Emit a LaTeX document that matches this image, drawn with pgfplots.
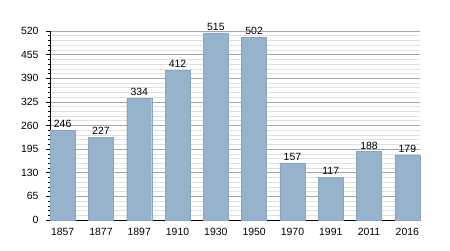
\documentclass[border=0pt]{standalone}
\usepackage{pgfplots}
\pgfplotsset{compat=1.18}
\usepackage{fontspec}
\setmainfont{Liberation Sans}
\definecolor{barfill}{HTML}{97B2CC}
\definecolor{baredge}{HTML}{8AA5C0}
\begin{document}
\begin{tikzpicture}[x=1bp,y=1bp]
\useasboundingbox (0,0) rectangle (450,250);
\begin{axis}[
  at={(50bp,30bp)}, anchor=south west,
  scale only axis, width=370bp, height=189bp,
  xmin=-0.33, xmax=9.33, ymin=0, ymax=520,
  xtick={0,...,9},
  xticklabels={1857,1877,1897,1910,1930,1950,1970,1991,2011,2016},
  ytick={0,65,130,195,260,325,390,455,520},
  minor y tick num=4,
  axis x line*=bottom, axis y line*=left,
  axis line style={black, line width=0.8pt},
  x axis line style={-}, y axis line style={-},
  xtick style={draw=none},
  ytick style={black, line width=0.6pt},
  tick align=outside,
  major tick length=4bp, minor tick length=2.5bp,
  ymajorgrids, yminorgrids,
  major grid style={color=black!35, line width=0.6pt},
  minor grid style={color=black!12, line width=0.6pt},
  tick label style={font=\fontsize{10.5}{12}\selectfont},
  /pgf/number format/assume math mode=true,
  yticklabel style={xshift=-4bp},
  xticklabel style={yshift=-0.5bp},
  clip=false,
]
\addplot[ybar, bar width=25bp, fill=barfill, draw=baredge,
  nodes near coords,
  every node near coord/.append style={font=\fontsize{10.5}{12}\selectfont, yshift=-1bp},
] coordinates {
(0,246) (1,227) (2,334) (3,412) (4,515) (5,502) (6,157) (7,117) (8,188) (9,179)
};
\end{axis}
\end{tikzpicture}
\end{document}
